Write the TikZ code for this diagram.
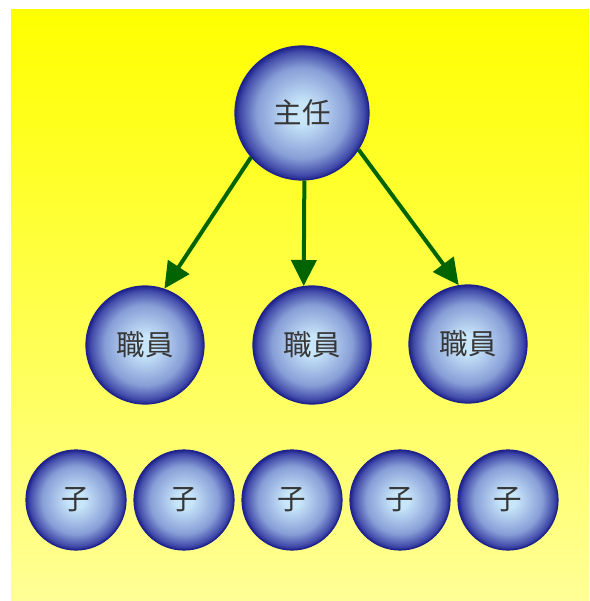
\documentclass[tikz,border=0pt]{standalone}
\usepackage{fontspec}
\newfontfamily\cjk{Noto Sans CJK JP}
\usetikzlibrary{arrows.meta}
\definecolor{ballC}{RGB}{200,230,250}
\definecolor{ballM}{RGB}{136,158,215}
\definecolor{ballE}{RGB}{66,76,170}
\definecolor{ballB}{RGB}{30,34,140}
\definecolor{bgtop}{RGB}{255,255,0}
\definecolor{bgbot}{RGB}{255,255,150}
\definecolor{arr}{RGB}{0,100,0}
\definecolor{txt}{RGB}{55,55,55}
\pgfdeclareradialshading{ball}{\pgfpoint{0bp}{0bp}}{color(0bp)=(ballC); color(4bp)=(ballC); color(17bp)=(ballM); color(23bp)=(ballE); color(25bp)=(ballB); color(50bp)=(ballB)}
\tikzset{
  ballnode/.style={circle, shading=ball, draw=ballB, line width=1.2pt, inner sep=0pt,
    font=\cjk\fontsize{28.5}{30}\selectfont, text=txt},
  bossnode/.style={ballnode, minimum size=134pt},
  staffnode/.style={ballnode, minimum size=118pt},
  kidnode/.style={ballnode, minimum size=100pt},
  link/.style={draw=arr, line width=4pt, -{Triangle[length=26pt,width=25pt]}}
}
\begin{document}
\begin{tikzpicture}[x=1pt,y=-1pt]
\useasboundingbox (0,0) rectangle (589,601);
\shade[top color=bgtop, bottom color=bgbot] (11,10) rectangle (589,601);
\node[bossnode] (boss) at (302,113) {主任};
\node[staffnode] (s1) at (145,345) {職員};
\node[staffnode] (s2) at (312,345) {職員};
\node[staffnode] (s3) at (468,344) {職員};
\node[kidnode] (k1) at (76,500) {子};
\node[kidnode] (k2) at (184,500) {子};
\node[kidnode] (k3) at (292,500) {子};
\node[kidnode] (k4) at (400,500) {子};
\node[kidnode] (k5) at (508,500) {子};
\draw[link] (boss.221) -- (s1.71);
\draw[link] (boss.272) -- (s2.98);
\draw[link] (boss.-33) -- (s3.99);
\end{tikzpicture}
\end{document}
